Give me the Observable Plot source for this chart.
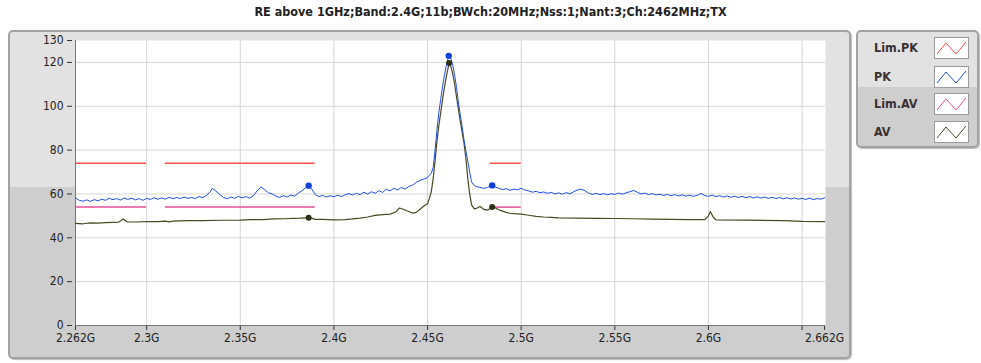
<!DOCTYPE html>
<html><head><meta charset="utf-8">
<script src="https://cdn.jsdelivr.net/npm/d3@7"></script>
<script src="https://cdn.jsdelivr.net/npm/@observablehq/plot@0.6"></script>
<style>
body{margin:0;background:#fff;font-family:"DejaVu Sans Condensed","Liberation Sans",sans-serif;}
#wrap{position:relative;width:981px;height:363px;overflow:hidden;background:#fff;}
#title{position:absolute;left:0;top:4px;width:981px;text-align:center;font:bold 12.5px "DejaVu Sans Condensed","Liberation Sans",sans-serif;color:#222;}
.panel{position:absolute;border:2px solid #a2a2a2;border-radius:5px;box-shadow:1px 1px 1px #bbb;background:linear-gradient(to bottom,#e2e2e2 0,#e2e2e2 var(--split),#cecece var(--split),#cecece 100%);box-sizing:border-box;}
#legend{font:bold 12.5px "DejaVu Sans Condensed","Liberation Sans",sans-serif;color:#3a3030;}
.li{position:absolute;left:16px;height:22px;line-height:22px;width:110px;}
.li svg{position:absolute;left:60px;top:0;}
#chart{position:absolute;left:0;top:0;}
</style></head>
<body><div id="wrap">
<div id="title">RE above 1GHz;Band:2.4G;11b;BWch:20MHz;Nss:1;Nant:3;Ch:2462MHz;TX</div>
<div class="panel" style="left:8px;top:30px;width:843px;height:329px;--split:155px"></div>
<div class="panel" id="legend" style="left:856px;top:30px;width:123px;height:118px;--split:55px"></div>
<div id="chart"></div>
</div>
<script>
// Frequencies in MHz, levels in dBuV/m
const xTicks = [2262, 2300, 2350, 2400, 2450, 2500, 2550, 2600, 2650, 2662];
const yTicks = [0, 20, 40, 60, 80, 100, 120, 130];
const seriesNames = ["Lim.PK", "PK", "Lim.AV", "AV"];
const seriesColors = ["#ff4b4b", "#1f4fe6", "#e0509a", "#4a4a24"];

const limitBands = [[2262, 2300], [2310, 2390], [2483.5, 2500]];
const limPK = 74;
const limAV = 54;

const pk = [
[2262,58.2],[2264,57.1],[2266,56.7],[2268,57.3],[2270,56.6],[2272,57.4],[2274,56.9],[2276,57.6],[2278,57.1],[2280,58.0],
[2282,57.4],[2284,57.9],[2286,57.2],[2288,58.2],[2290,57.5],[2292,58.1],[2294,57.3],[2296,57.9],[2298,57.1],[2300,58.0],
[2302,57.5],[2304,58.3],[2306,57.6],[2308,58.2],[2310,57.7],[2312,58.5],[2314,57.8],[2316,58.4],[2318,57.9],[2320,58.6],
[2322,58.0],[2324,58.4],[2326,57.9],[2328,58.8],[2330,58.3],[2332,59.4],[2334,61.0],[2335,62.6],[2337,61.3],[2339,59.8],
[2341,58.4],[2343,57.8],[2345,58.6],[2347,58.0],[2349,58.9],[2351,58.2],[2353,58.8],[2355,58.1],[2357,59.2],[2359,61.4],
[2361,63.2],[2363,62.0],[2365,60.6],[2367,60.0],[2369,59.0],[2371,58.4],[2373,59.2],[2375,58.6],[2377,59.5],[2379,59.0],
[2381,60.4],[2383,61.5],[2385,63.0],[2386.5,63.8],[2388,62.4],[2390,59.8],[2392,58.8],[2394,59.3],[2396,58.6],[2398,59.2],
[2400,58.7],[2402,59.4],[2404,58.8],[2406,59.6],[2408,60.2],[2410,59.5],[2412,60.3],[2414,59.7],[2416,60.8],[2418,60.0],
[2420,61.0],[2422,60.3],[2424,61.5],[2426,60.7],[2428,62.2],[2430,61.4],[2432,62.6],[2434,61.8],[2436,63.0],[2438,62.2],
[2440,63.4],[2442,64.0],[2444,65.3],[2446,66.2],[2448,66.8],[2450,67.5],[2452,69.5],[2453,72],[2454,80],[2455,89],
[2456,97],[2457,103],[2458,109],[2459,114],[2460,118.5],[2461.3,123.0],[2462.5,121.8],[2463.5,118.5],[2464.5,114],[2465.5,108.5],
[2466.5,101.5],[2467.5,96],[2468.5,90.5],[2469.5,84.5],[2470.5,79.5],[2471.5,75],[2472.5,70],[2473.5,65.5],[2475,63.8],[2476,63.4],
[2478,63.0],[2480,62.5],[2482,63.0],[2484.5,63.9],[2486,63.2],[2488,62.6],[2490,62.0],[2492,62.4],[2494,61.7],[2496,62.2],
[2498,61.9],[2500,62.6],[2502,61.8],[2504,61.4],[2506,60.8],[2508,61.2],[2510,60.6],[2512,60.9],[2514,60.3],[2516,60.7],
[2518,60.0],[2520,60.5],[2522,59.9],[2524,60.6],[2526,60.1],[2528,61.0],[2530,61.8],[2532,62.2],[2534,61.5],[2536,60.4],
[2538,59.8],[2540,60.3],[2542,59.7],[2544,60.2],[2546,59.6],[2548,60.1],[2550,59.8],[2552,60.4],[2554,59.9],[2556,60.5],
[2558,61.0],[2560,61.6],[2562,60.8],[2564,60.0],[2566,60.4],[2568,59.7],[2570,60.2],[2572,59.5],[2574,59.9],[2576,59.3],
[2578,59.8],[2580,59.2],[2582,59.7],[2584,59.1],[2586,59.6],[2588,59.0],[2590,59.5],[2592,58.9],[2594,59.4],[2596,60.2],
[2598,59.3],[2600,58.9],[2602,59.5],[2604,58.8],[2606,59.2],[2608,58.6],[2610,59.1],[2612,58.5],[2614,59.0],[2616,58.4],
[2618,58.9],[2620,58.3],[2622,58.8],[2624,58.2],[2626,58.7],[2628,58.1],[2630,58.6],[2632,58.0],[2634,58.5],[2636,57.9],
[2638,58.4],[2640,57.8],[2642,58.3],[2644,57.7],[2646,58.2],[2648,57.6],[2650,58.0],[2652,57.5],[2654,58.1],[2656,57.4],
[2658,57.9],[2660,57.6],[2662,58.3]
];

const av = [
[2262,46.6],[2266,46.4],[2270,46.8],[2274,46.7],[2278,46.9],[2282,47.0],[2285,47.1],[2287.5,48.6],[2289.5,47.3],[2294,47.2],
[2300,47.4],[2306,47.4],[2310,47.6],[2312,47.3],[2314,47.6],[2318,47.7],[2322,47.8],[2330,47.8],[2340,48.0],[2350,48.1],
[2356,48.3],[2362,48.3],[2368,48.6],[2374,48.7],[2378,48.9],[2382,49.0],[2386.5,49.2],[2388,49.0],[2390,48.4],[2394,48.4],
[2400,48.2],[2406,48.3],[2410,48.6],[2414,49.0],[2418,49.5],[2422,50.2],[2426,50.6],[2430,50.8],[2433,51.8],[2435,53.6],
[2437,53.0],[2440,52.0],[2442,51.3],[2444,51.6],[2446,53.0],[2448,54.5],[2450,55.5],[2451,58],[2452,61],[2453,67],
[2454,75],[2455,84],[2456,91],[2457,97],[2458,103],[2459,108.5],[2460,113.5],[2461.5,119.7],[2462.5,118.0],[2463.5,114.5],
[2464.5,110],[2465.5,104],[2466.5,98.5],[2467.5,93],[2468.5,88],[2469.5,83],[2470.5,76],[2471.5,67],[2472.5,60],[2473.5,55],
[2475,53.2],[2476,53.4],[2478,54.3],[2480,53.0],[2482,52.6],[2484.5,54.1],[2486,53.7],[2488,52.8],[2490,52.2],[2492,51.6],
[2494,51.2],[2496,51.0],[2500,50.8],[2504,50.3],[2508,49.8],[2512,49.5],[2516,49.3],[2520,49.1],[2530,49.0],[2540,48.9],
[2550,48.8],[2560,48.7],[2570,48.5],[2580,48.4],[2590,48.3],[2598,48.3],[2600,50.0],[2601,52.0],[2602.5,49.5],[2604,48.2],
[2620,48.1],[2640,47.8],[2650,47.5],[2662,47.4]
];

const pkMarkers = [[2386.5,63.8],[2461.3,123.0],[2484.5,63.9]];
const avMarkers = [[2386.5,49.2],[2461.5,119.7],[2484.5,54.1]];

const fmt = d => d === 2650 ? "" : (d / 1000) + "G";
const gridXTicks = xTicks.filter(d => d !== 2262 && d !== 2662);
const gridYTicks = yTicks.filter(d => d !== 0 && d !== 130);

const chart = Plot.plot({
  width: 850, height: 363,
  marginLeft: 75, marginRight: 25, marginTop: 40, marginBottom: 38,
  style: {background: "transparent", fontSize: "12px", fontFamily: "'DejaVu Sans Condensed','Liberation Sans',sans-serif", color: "#222"},
  x: {domain: [2262, 2662.5], label: null},
  y: {domain: [0, 130], label: null},
  marks: [
    Plot.frame({fill: "white", stroke: null}),
    Plot.gridX(gridXTicks, {stroke: "#d6d6d6", strokeOpacity: 1}),
    Plot.gridY(gridYTicks, {stroke: "#d6d6d6", strokeOpacity: 1}),
    Plot.axisX({ticks: xTicks, tickFormat: fmt, tickSize: 5, tickPadding: 3, stroke: "#333", fill: "#222"}),
    Plot.axisY({ticks: yTicks, tickSize: 5, tickPadding: 4, dx: -3, stroke: "#333", fill: "#222"}),
    Plot.ruleX([2262], {stroke: "#777"}),
    Plot.ruleY([0], {stroke: "#777"}),
    Plot.ruleY(limitBands, {x1: d => d[0], x2: d => d[1], y: () => limPK, stroke: seriesColors[0], strokeWidth: 1.5}),
    Plot.ruleY(limitBands, {x1: d => d[0], x2: d => d[1], y: () => limAV, stroke: seriesColors[2], strokeWidth: 1.5}),
    Plot.line(av, {x: d => d[0], y: d => d[1], stroke: seriesColors[3], strokeWidth: 1.2}),
    Plot.line(pk, {x: d => d[0], y: d => d[1], stroke: seriesColors[1], strokeWidth: 1}),
    Plot.dot(pkMarkers, {x: d => d[0], y: d => d[1], r: 3.2, fill: "#1040d8", stroke: null}),
    Plot.dot(avMarkers, {x: d => d[0], y: d => d[1], r: 3, fill: "#2e2e12", stroke: null})
  ]
});
document.getElementById("chart").appendChild(chart);

// Legend
const legend = document.getElementById("legend");
const legendTops = [5, 34, 61, 89];
seriesNames.forEach((name, i) => {
  const div = document.createElement("div");
  div.className = "li";
  div.style.top = legendTops[i] + "px";
  div.textContent = name;
  const s = d3.create("svg").attr("width", 35).attr("height", 22);
  s.append("rect").attr("x", 0.5).attr("y", 0.5).attr("width", 34).attr("height", 21).attr("fill", "#fff").attr("stroke", "#9a9a9a");
  s.append("polyline").attr("points", "3,17 12,6 22,17 32,5").attr("fill", "none").attr("stroke", seriesColors[i]).attr("stroke-width", 1);
  div.appendChild(s.node());
  legend.appendChild(div);
});
</script>
</body></html>
